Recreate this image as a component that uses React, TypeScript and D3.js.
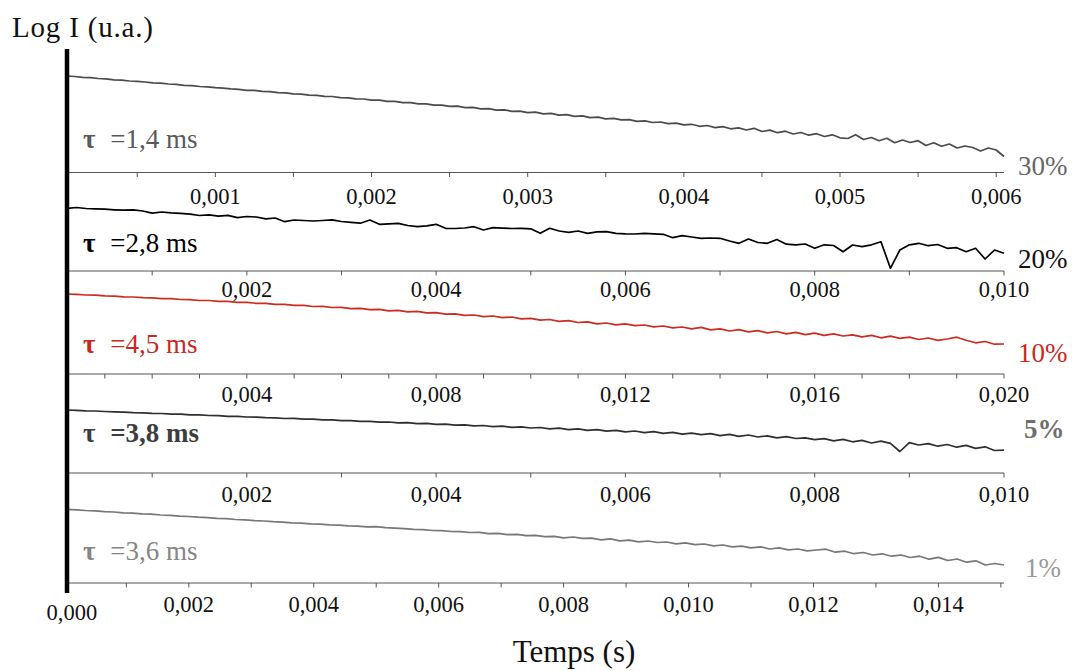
import React from 'react';
import * as d3 from 'd3';

const W = 1072;
const H = 671;

// Log I (u.a.) samples, one array per concentration
const SERIES_30 = [
  0.965,0.960,0.952,0.948,0.940,0.936,0.927,0.923,0.915,0.911,
  0.905,0.897,0.893,0.885,0.881,0.872,0.869,0.860,0.857,0.848,
  0.844,0.836,0.832,0.822,0.821,0.811,0.808,0.799,0.796,0.786,
  0.784,0.774,0.772,0.761,0.760,0.749,0.747,0.737,0.735,0.724,
  0.723,0.711,0.711,0.699,0.699,0.686,0.687,0.674,0.674,0.661,
  0.663,0.649,0.651,0.636,0.639,0.623,0.627,0.611,0.614,0.599,
  0.603,0.587,0.591,0.574,0.578,0.561,0.566,0.549,0.554,0.537,
  0.541,0.526,0.529,0.512,0.517,0.500,0.505,0.488,0.494,0.476,
  0.482,0.462,0.470,0.449,0.459,0.437,0.446,0.425,0.442,0.410,
  0.424,0.398,0.413,0.385,0.400,0.373,0.388,0.360,0.377,0.347,
  0.340,0.378,0.330,0.350,0.318,0.342,0.298,0.325,0.300,0.318,
  0.270,0.298,0.262,0.285,0.245,0.265,0.250,0.215,0.245,0.225,0.160,
];

const SERIES_20 = [
  0.627,0.635,0.625,0.622,0.618,0.612,0.608,0.612,0.600,0.578,
  0.590,0.582,0.577,0.568,0.555,0.562,0.548,0.556,0.533,0.545,
  0.540,0.522,0.530,0.493,0.510,0.505,0.500,0.505,0.512,0.495,
  0.487,0.478,0.510,0.467,0.472,0.477,0.455,0.443,0.452,0.467,
  0.427,0.425,0.430,0.443,0.410,0.433,0.428,0.425,0.427,0.422,
  0.377,0.427,0.400,0.387,0.400,0.377,0.392,0.393,0.377,0.372,
  0.370,0.377,0.372,0.367,0.333,0.353,0.340,0.327,0.330,0.327,
  0.300,0.277,0.320,0.285,0.277,0.315,0.268,0.262,0.270,0.227,
  0.262,0.255,0.193,0.260,0.243,0.262,0.293,0.027,0.210,0.262,
  0.277,0.253,0.265,0.227,0.233,0.193,0.227,0.120,0.210,0.177,
];

const SERIES_10 = [
  0.800,0.797,0.790,0.788,0.781,0.779,0.772,0.770,0.763,0.761,
  0.754,0.753,0.745,0.744,0.735,0.735,0.726,0.727,0.717,0.717,
  0.707,0.706,0.697,0.697,0.686,0.686,0.675,0.677,0.665,0.666,
  0.654,0.656,0.644,0.646,0.632,0.636,0.622,0.626,0.611,0.614,
  0.598,0.602,0.587,0.590,0.574,0.580,0.563,0.570,0.551,0.556,
  0.538,0.545,0.526,0.533,0.515,0.522,0.502,0.510,0.492,0.502,
  0.483,0.490,0.471,0.480,0.462,0.470,0.452,0.466,0.441,0.452,
  0.430,0.443,0.422,0.434,0.411,0.425,0.401,0.416,0.394,0.408,
  0.386,0.401,0.380,0.392,0.371,0.386,0.362,0.378,0.356,0.369,
  0.345,0.360,0.336,0.350,0.368,0.338,0.312,0.325,0.298,0.300,
];

const SERIES_5 = [
  0.630,0.627,0.622,0.620,0.615,0.612,0.609,0.604,0.602,0.597,
  0.595,0.589,0.588,0.582,0.581,0.575,0.573,0.567,0.566,0.560,
  0.559,0.553,0.552,0.545,0.546,0.538,0.538,0.531,0.531,0.523,
  0.524,0.516,0.517,0.509,0.510,0.501,0.503,0.494,0.496,0.487,
  0.489,0.479,0.482,0.472,0.475,0.464,0.468,0.457,0.461,0.450,
  0.455,0.442,0.448,0.434,0.441,0.427,0.434,0.419,0.427,0.412,
  0.420,0.404,0.414,0.397,0.407,0.389,0.399,0.383,0.393,0.374,
  0.386,0.367,0.380,0.360,0.372,0.352,0.364,0.345,0.352,0.333,
  0.344,0.322,0.336,0.312,0.326,0.300,0.318,0.296,0.215,0.303,
  0.280,0.294,0.268,0.285,0.258,0.276,0.246,0.262,0.225,0.228,
];

const SERIES_1 = [
  0.737,0.732,0.725,0.721,0.714,0.710,0.702,0.699,0.691,0.688,
  0.680,0.676,0.669,0.665,0.658,0.654,0.646,0.643,0.635,0.632,
  0.624,0.620,0.613,0.609,0.602,0.598,0.591,0.588,0.581,0.578,
  0.571,0.568,0.561,0.563,0.554,0.548,0.543,0.536,0.534,0.525,
  0.524,0.515,0.514,0.505,0.506,0.493,0.497,0.483,0.487,0.474,
  0.476,0.463,0.467,0.452,0.460,0.446,0.448,0.432,0.442,0.422,
  0.428,0.412,0.420,0.405,0.410,0.392,0.402,0.384,0.390,0.371,
  0.380,0.362,0.369,0.351,0.362,0.340,0.352,0.331,0.340,0.322,
  0.330,0.338,0.308,0.318,0.293,0.305,0.280,0.292,0.268,0.280,
  0.255,0.268,0.238,0.256,0.225,0.240,0.208,0.222,0.180,0.195,0.180,
];

// sampling (s)
const SAMPLE_START = [0.00005, 0.0001, 0.0002, 0.0001, 0.00005];
const SAMPLE_STEP = [0.00005, 0.0001, 0.0002, 0.0001, 0.00015];
// axis ticks (s)
const TICK_STEP = [0.0005, 0.001, 0.001, 0.001, 0.001];
const LABEL_STEP = [0.001, 0.002, 0.004, 0.002, 0.002];
// labels
const TAU_TEXT = ['=1,4 ms', '=2,8 ms', '=4,5 ms', '=3,8 ms', '=3,6 ms'];
const PCT_TEXT = ['30%', '20%', '10%', '5%', '1%'];

const SERIES = [SERIES_30, SERIES_20, SERIES_10, SERIES_5, SERIES_1];

// layout / style
const X_LEFT = 67;
const X_RIGHT = 1004;
const BASE_Y = [172.5, 271, 374, 473, 583];
const UNIT_PX = 100;
const TICK_LABEL_DY = [31, 26, 28, 29, 29];
const TAU_Y = [148, 252, 353, 442, 560];
const PCT_X = [1018, 1018, 1018, 1024, 1025];
const PCT_Y = [175, 268, 362, 438, 577];
const LINE_COLOR = ['#4a4a4a', '#000000', '#cc2b22', '#2e2e2e', '#777777'];
const TAU_COLOR = ['#595959', '#000000', '#c8291f', '#3d3d3d', '#858585'];
const PCT_COLOR = ['#666666', '#111111', '#c8291f', '#6e6e6e', '#999999'];
const ALL_BOLD = [false, false, false, true, false];
const PCT_BOLD = [false, false, false, true, false];

const FONT = "'Liberation Serif', 'Times New Roman', serif";
const fmt = (t: number) => d3.format('.3f')(t).replace('.', ',');

export default function App() {
  const panels = SERIES.map((vals, p) => {
    const pts = vals.map((v, i) => ({ t: SAMPLE_START[p] + SAMPLE_STEP[p] * i, v }));
    const tMin = pts[0].t;
    const tMax = pts[pts.length - 1].t;
    const x = d3.scaleLinear().domain([tMin, tMax]).range([X_LEFT, X_RIGHT]);
    const y = d3.scaleLinear().domain([0, 1]).range([BASE_Y[p], BASE_Y[p] - UNIT_PX]);
    const line = d3
      .line<{ t: number; v: number }>()
      .x((d) => x(d.t))
      .y((d) => y(d.v));
    const n = Math.floor(tMax / TICK_STEP[p] + 1e-6);
    const ticks = d3.range(1, n + 1).map((k) => k * TICK_STEP[p]);
    return { p, pts, x, y, path: line(pts) || '', ticks };
  });

  return (
    <div style={{ position: 'absolute', left: 0, top: 0, width: W, height: H, background: '#fff' }}>
      <svg width={W} height={H} style={{ display: 'block' }} fontFamily={FONT}>
        <rect x={0} y={0} width={W} height={H} fill="#fff" />
        <text x={12} y={37} fontSize={29} fill="#111" letterSpacing={0.8}>
          Log I (u.a.)
        </text>
        {panels.map(({ p, x, path, ticks }) => (
          <g key={p}>
            <line x1={X_LEFT} x2={X_RIGHT} y1={BASE_Y[p]} y2={BASE_Y[p]} stroke="#555" strokeWidth={1.2} />
            {ticks.map((t) => {
              const labeled = Math.abs(t / LABEL_STEP[p] - Math.round(t / LABEL_STEP[p])) < 1e-6;
              return (
                <g key={t}>
                  <line x1={x(t)} x2={x(t)} y1={BASE_Y[p]} y2={BASE_Y[p] + 4.5} stroke="#555" strokeWidth={1} />
                  {labeled && (
                    <text
                      x={x(t)}
                      y={BASE_Y[p] + TICK_LABEL_DY[p]}
                      fontSize={22.5}
                      textAnchor="middle"
                      fill="#111"
                    >
                      {fmt(t)}
                    </text>
                  )}
                </g>
              );
            })}
            <path d={path} fill="none" stroke={LINE_COLOR[p]} strokeWidth={1.7} strokeLinejoin="round" />
            <text
              x={83}
              y={TAU_Y[p]}
              fontSize={27}
              fill={TAU_COLOR[p]}
              fontWeight={ALL_BOLD[p] ? 'bold' : 'normal'}
            >
              <tspan fontWeight="bold">τ</tspan>
              <tspan dx={8}> {TAU_TEXT[p]}</tspan>
            </text>
            <text
              x={PCT_X[p]}
              y={PCT_Y[p]}
              fontSize={27}
              fill={PCT_COLOR[p]}
              fontWeight={PCT_BOLD[p] ? 'bold' : 'normal'}
            >
              {PCT_TEXT[p]}
            </text>
          </g>
        ))}
        <text
          x={panels[4].x(0) + 8}
          y={BASE_Y[4] + 37}
          fontSize={22.5}
          textAnchor="middle"
          fill="#111"
        >
          {fmt(0)}
        </text>
        <line x1={X_LEFT} x2={X_LEFT} y1={49} y2={593} stroke="#000" strokeWidth={4.5} />
        <text x={574} y={662} fontSize={31} textAnchor="middle" fill="#111">
          Temps (s)
        </text>
      </svg>
    </div>
  );
}
